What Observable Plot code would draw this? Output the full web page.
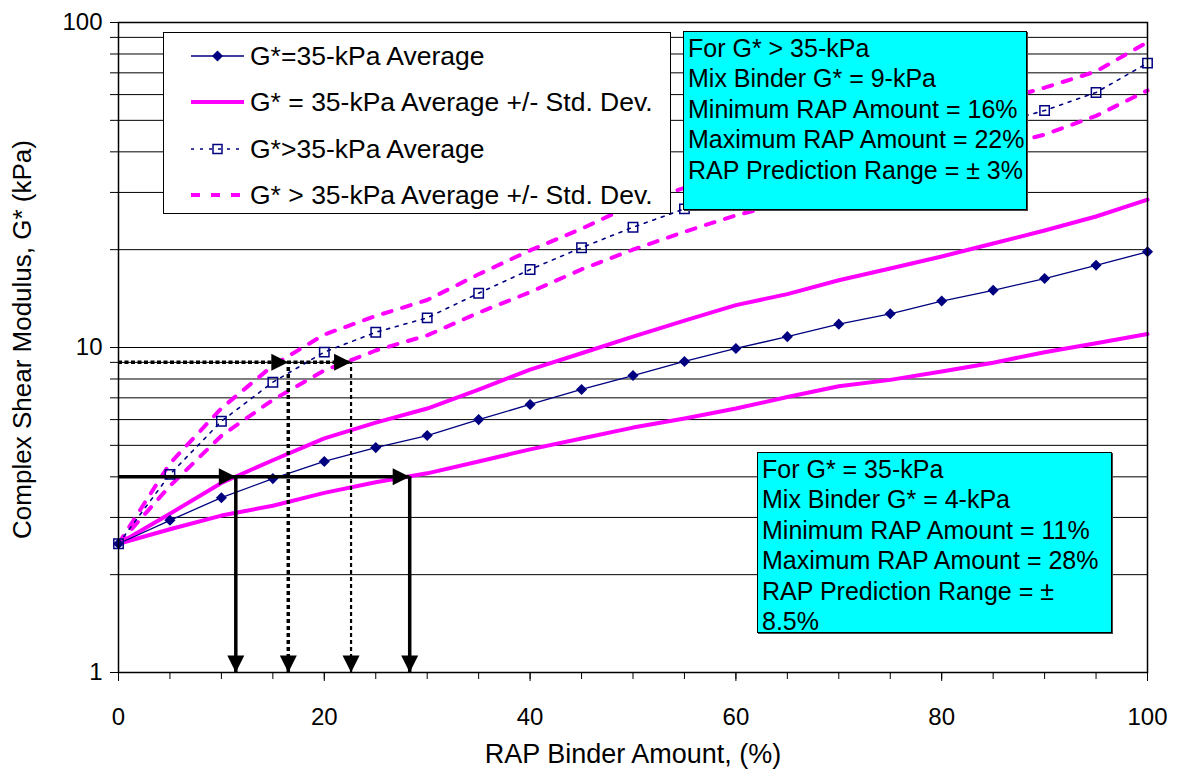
<!DOCTYPE html>
<html><head><meta charset="utf-8">
<script src="https://cdn.jsdelivr.net/npm/d3@7"></script>
<script src="https://cdn.jsdelivr.net/npm/@observablehq/plot@0.6"></script>
<style>
body{margin:0;background:#fff;font-family:"Liberation Sans",Arial,sans-serif;}
#wrap{position:relative;width:1177px;height:775px;overflow:hidden;background:#fff;}
#wrap > svg{position:absolute;left:0;top:0;}
.box{position:absolute;box-sizing:border-box;border:1.5px solid #000;color:#000;white-space:nowrap;}
.cyan{background:#00ffff;padding:1px 0 0 4px;box-shadow:1px 1px 0 #444;font-size:25px;line-height:30.4px;}
.legend{background:#fff;font-size:26.5px;}
.lg-row{position:absolute;left:0;height:30px;display:flex;align-items:center;white-space:nowrap;}
.lg-row svg{margin-left:27px;margin-right:6px;}
</style></head><body><div id="wrap"></div>
<script>
// ---- data ----
const rapAll   = [0,5,10,15,20,25,30,35,40,45,50,55,60,65,70,75,80,85,90,95,100];
const g35Avg   = [2.49,2.94,3.45,3.95,4.46,4.92,5.36,6.0,6.68,7.43,8.2,9.06,9.93,10.8,11.8,12.7,13.9,15.0,16.3,17.9,19.7];
const g35Upper = [2.49,3.08,3.83,4.5,5.25,5.87,6.49,7.42,8.55,9.6,10.8,12.1,13.5,14.6,16.1,17.5,19.05,20.9,22.9,25.3,28.5];
const g35Lower = [2.49,2.76,3.04,3.26,3.57,3.85,4.1,4.46,4.86,5.25,5.67,6.05,6.49,7.04,7.6,7.95,8.44,8.98,9.67,10.3,11.0];

const rapGtAvg   = [0,5,10,15,20,25,30,35,40,45,50,55,90,95,100];
const gtAvg      = [2.49,4.07,5.93,7.82,9.68,11.14,12.34,14.69,17.38,20.28,23.45,26.7,53.6,60.9,75.0];
const rapGtUpper = [0,5,10,15,20,25,30,35,40,45,50,55,90,95,100];
const gtUpper    = [2.49,4.4,6.5,8.8,10.96,12.5,14.0,16.8,19.9,23.2,27.5,31.0,63.0,70.7,87.0];
const rapGtLower = [0,5,10,15,20,25,30,35,40,45,50,55,60,90,95,100];
const gtLower    = [2.49,3.75,5.35,6.9,8.5,9.79,10.9,12.8,14.8,17.4,20.0,22.7,25.5,45.2,51.6,61.8];

// annotation arrows: mix binder G* levels and RAP amounts
const mixG      = [4, 9];
const range35   = [11.4, 28.3];
const rangeGt   = [16.5, 22.6];

// axes
const yGrid   = [1,2,3,4,5,6,7,8,9,10,20,30,40,50,60,70,80,90,100];
const yLabels = [1,10,100];
const xMinor  = d3.range(0, 101, 5);
const xMajor  = [0,20,40,60,80,100];
const xTitle  = "RAP Binder Amount, (%)";
const yTitle  = "Complex Shear Modulus, G* (kPa)";

// legend + notes
const seriesNames = ["G*=35-kPa Average","G* = 35-kPa Average +/- Std. Dev.","G*>35-kPa Average","G* > 35-kPa Average +/- Std. Dev."];
const noteGt = ["For G* > 35-kPa","Mix Binder G* = 9-kPa","Minimum RAP Amount = 16%","Maximum RAP Amount = 22%","RAP Prediction Range = ± 3%"];
const note35 = ["For G* = 35-kPa","Mix Binder G* = 4-kPa","Minimum RAP Amount = 11%","Maximum RAP Amount = 28%","RAP Prediction Range = ±","8.5%"];

const NAVY = "#000080", MAG = "#ff00ff";

// ---- tables ----
const t35 = rapAll.map((x,i)=>({x, avg:g35Avg[i], up:g35Upper[i], lo:g35Lower[i]}));
const tGtAvg = rapGtAvg.map((x,i)=>({x, y:gtAvg[i]}));
const tGtUp  = rapGtUpper.map((x,i)=>({x, y:gtUpper[i]}));
const tGtLo  = rapGtLower.map((x,i)=>({x, y:gtLower[i]}));

const headRight = {draw(c){ c.moveTo(0,0); c.lineTo(-17,-8.5); c.lineTo(-17,8.5); c.closePath(); }};
const headDown  = {draw(c){ c.moveTo(0,0); c.lineTo(-8.5,-17); c.lineTo(8.5,-17); c.closePath(); }};

const chart = Plot.plot({
  width: 1177, height: 775,
  marginLeft: 118, marginRight: 30, marginTop: 22, marginBottom: 103,
  style: {fontFamily: "'Liberation Sans', Arial, sans-serif", fontSize: "24px", color: "#000", background: "#fff", overflow: "visible"},
  x: {domain: [0, 100]},
  y: {type: "log", domain: [1, 100]},
  marks: [
    Plot.gridY(yGrid, {stroke: "#000", strokeOpacity: 1, strokeWidth: 1}),
    Plot.line(t35, {x: "x", y: "up", stroke: MAG, strokeWidth: 4}),
    Plot.line(t35, {x: "x", y: "lo", stroke: MAG, strokeWidth: 4}),
    Plot.line(t35, {x: "x", y: "avg", stroke: NAVY, strokeWidth: 1.3}),
    Plot.line(tGtUp, {x: "x", y: "y", stroke: MAG, strokeWidth: 4, strokeDasharray: "9,11"}),
    Plot.line(tGtLo, {x: "x", y: "y", stroke: MAG, strokeWidth: 4, strokeDasharray: "9,11"}),
    Plot.line(tGtAvg, {x: "x", y: "y", stroke: NAVY, strokeWidth: 1.6, strokeDasharray: "3,6"}),
    Plot.dot(t35, {x: "x", y: "avg", symbol: "diamond2", fill: NAVY, r: 5}),
    Plot.dot(tGtAvg, {x: "x", y: "y", symbol: "square", stroke: NAVY, fill: "none", strokeWidth: 1.5, r: 5.3}),
    // arrows for G* = 35 kPa
    Plot.ruleY([mixG[0]], {x1: () => 0, x2: () => range35[1], stroke: "#000", strokeWidth: 3.5}),
    Plot.ruleX(range35, {y1: () => 1, y2: () => mixG[0], stroke: "#000", strokeWidth: 3.5}),
    Plot.dot(range35, {x: d => d, y: () => mixG[0], symbol: headRight, fill: "#000"}),
    Plot.dot(range35, {x: d => d, y: () => 1, symbol: headDown, fill: "#000"}),
    // arrows for G* > 35 kPa
    Plot.ruleY([mixG[1]], {x1: () => 0, x2: () => rangeGt[1], stroke: "#000", strokeWidth: 3.5, strokeDasharray: "4,2.5"}),
    Plot.ruleX([rangeGt[0]], {y1: () => 1, y2: () => mixG[1], stroke: "#000", strokeWidth: 3.5, strokeDasharray: "4,3"}),
    Plot.ruleX([rangeGt[1]], {y1: () => 1, y2: () => mixG[1], stroke: "#000", strokeWidth: 2.2, strokeDasharray: "4,3"}),
    Plot.dot(rangeGt, {x: d => d, y: () => mixG[1], symbol: headRight, fill: "#000"}),
    Plot.dot(rangeGt, {x: d => d, y: () => 1, symbol: headDown, fill: "#000"}),
    Plot.frame({stroke: "#000", strokeWidth: 1.5}),
    Plot.axisY(yGrid, {tickSize: 8, tickPadding: 8, tickFormat: d => yLabels.includes(d) ? String(d) : "", label: null, fontSize: 24}),
    Plot.axisX(xMinor, {tickSize: 7, tickFormat: () => "", label: null}),
    Plot.axisX(xMajor, {tickSize: 9, tickPadding: 26, label: null, fontSize: 24}),
    Plot.text([xTitle], {text: d => d, frameAnchor: "bottom", dy: 90, fontSize: 27}),
    Plot.text([yTitle], {text: d => d, frameAnchor: "left", textAnchor: "middle", dx: -96, dy: -8, rotate: -90, fontSize: 26})
  ]
});
const wrap = document.getElementById("wrap");
wrap.appendChild(chart);

// legend
const legend = document.createElement("div");
legend.className = "box legend";
Object.assign(legend.style, {left: "163px", top: "32px", width: "508px", height: "182px"});
const rowTops = [8, 54, 101, 147];
const samples = [
  `<line x1="0" y1="10" x2="53" y2="10" stroke="${NAVY}" stroke-width="1.3"/><path d="M26.5,4.5L32,10L26.5,15.5L21,10Z" fill="${NAVY}"/>`,
  `<line x1="0" y1="10" x2="53" y2="10" stroke="${MAG}" stroke-width="4"/>`,
  `<line x1="0" y1="10" x2="53" y2="10" stroke="${NAVY}" stroke-width="1.6" stroke-dasharray="3,6"/><rect x="22" y="5.5" width="9" height="9" fill="none" stroke="${NAVY}" stroke-width="1.5"/>`,
  `<line x1="0" y1="10" x2="53" y2="10" stroke="${MAG}" stroke-width="4" stroke-dasharray="9,11"/>`
];
seriesNames.forEach((name, i) => {
  const row = document.createElement("div");
  row.className = "lg-row";
  row.style.top = rowTops[i] + "px";
  row.innerHTML = `<svg width="53" height="20">${samples[i]}</svg><span>${name}</span>`;
  legend.appendChild(row);
});
wrap.appendChild(legend);

function note(lines, l, t, w, h) {
  const d = document.createElement("div");
  d.className = "box cyan";
  Object.assign(d.style, {left: l + "px", top: t + "px", width: w + "px", height: h + "px"});
  d.innerHTML = lines.map(s => `<div>${s}</div>`).join("");
  wrap.appendChild(d);
}
note(noteGt, 683, 31, 344, 179);
note(note35, 757, 452, 355, 181);
</script></body></html>
